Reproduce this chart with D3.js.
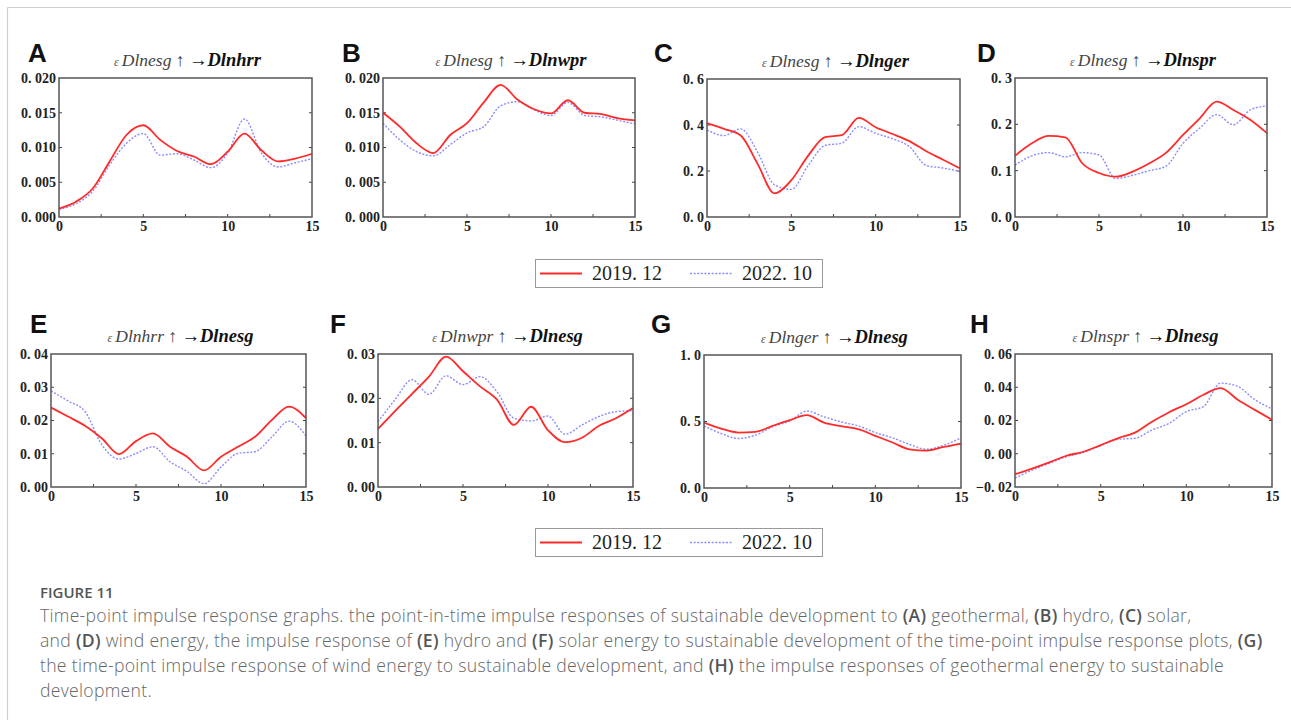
<!DOCTYPE html>
<html>
<head>
<meta charset="utf-8">
<script src="https://cdn.jsdelivr.net/npm/d3@7"></script>
<style>
  html, body { margin: 0; padding: 0; background: #fff; }
  svg { display: block; }
</style>
</head>
<body>
<svg id="fig" width="1291" height="720"></svg>
<script>
// Impulse response periods
const periods = [0, 1, 2, 3, 4, 5, 6, 7, 8, 9, 10, 11, 12, 13, 14, 15];
const xTicks = [0, 5, 10, 15];
const seriesNames = ["2019. 12", "2022. 10"];

// Panel labels and titles
const panelLetters = ["A", "B", "C", "D", "E", "F", "G", "H"];
const shockVars = ["Dlnesg", "Dlnesg", "Dlnesg", "Dlnesg", "Dlnhrr", "Dlnwpr", "Dlnger", "Dlnspr"];
const responseVars = ["Dlnhrr", "Dlnwpr", "Dlnger", "Dlnspr", "Dlnesg", "Dlnesg", "Dlnesg", "Dlnesg"];

// Y tick values per panel
const yTicksA = [0, 0.005, 0.010, 0.015, 0.020];
const yTicksB = [0, 0.005, 0.010, 0.015, 0.020];
const yTicksC = [0, 0.2, 0.4, 0.6];
const yTicksD = [0, 0.1, 0.2, 0.3];
const yTicksE = [0, 0.01, 0.02, 0.03, 0.04];
const yTicksF = [0, 0.01, 0.02, 0.03];
const yTicksG = [0, 0.5, 1.0];
const yTicksH = [-0.02, 0, 0.02, 0.04, 0.06];
const yDecimals = [3, 3, 1, 1, 2, 2, 1, 2];

// Responses, 2019.12
const redA = [0.0012, 0.0022, 0.0041, 0.0080, 0.0118, 0.0132, 0.0111, 0.0095, 0.0087, 0.0076, 0.0094, 0.0120, 0.0096, 0.0080, 0.0084, 0.0091];
const redB = [0.0150, 0.0130, 0.0106, 0.0092, 0.0118, 0.0135, 0.0165, 0.0190, 0.0169, 0.0155, 0.0149, 0.0168, 0.0150, 0.0148, 0.0142, 0.0139];
const redC = [0.408, 0.383, 0.354, 0.231, 0.103, 0.160, 0.267, 0.347, 0.356, 0.431, 0.390, 0.361, 0.330, 0.286, 0.249, 0.211];
const redD = [0.132, 0.159, 0.175, 0.172, 0.116, 0.095, 0.087, 0.098, 0.116, 0.139, 0.177, 0.213, 0.249, 0.231, 0.210, 0.181];
const redE = [0.0239, 0.0212, 0.0184, 0.0146, 0.0099, 0.0138, 0.0161, 0.0121, 0.0091, 0.0050, 0.0091, 0.0121, 0.0151, 0.0202, 0.0242, 0.0207];
const redF = [0.0131, 0.0171, 0.0210, 0.0249, 0.0294, 0.0261, 0.0227, 0.0197, 0.0140, 0.0181, 0.0128, 0.0101, 0.0111, 0.0138, 0.0155, 0.0178];
const redG = [0.492, 0.447, 0.417, 0.422, 0.467, 0.510, 0.548, 0.492, 0.465, 0.442, 0.392, 0.342, 0.291, 0.281, 0.309, 0.334];
const redH = [-0.0123, -0.0089, -0.0052, -0.0012, 0.0012, 0.0052, 0.0093, 0.0127, 0.0193, 0.0250, 0.0298, 0.0355, 0.0395, 0.0325, 0.0264, 0.0204];

// Responses, 2022.10
const blueA = [0.0011, 0.0019, 0.0037, 0.0075, 0.0106, 0.0120, 0.0089, 0.0091, 0.0082, 0.0071, 0.0092, 0.0141, 0.0092, 0.0072, 0.0078, 0.0084];
const blueB = [0.0135, 0.0111, 0.0094, 0.0088, 0.0104, 0.0121, 0.0130, 0.0160, 0.0166, 0.0154, 0.0146, 0.0165, 0.0146, 0.0144, 0.0139, 0.0134];
const blueC = [0.379, 0.354, 0.383, 0.282, 0.140, 0.120, 0.224, 0.311, 0.321, 0.393, 0.364, 0.340, 0.306, 0.224, 0.213, 0.198];
const blueD = [0.112, 0.132, 0.139, 0.130, 0.139, 0.134, 0.083, 0.090, 0.100, 0.110, 0.159, 0.192, 0.221, 0.199, 0.231, 0.240];
const blueE = [0.0289, 0.0259, 0.0227, 0.0126, 0.0084, 0.0101, 0.0121, 0.0076, 0.0047, 0.0010, 0.0060, 0.0101, 0.0106, 0.0151, 0.0198, 0.0154];
const blueF = [0.0147, 0.0197, 0.0242, 0.0209, 0.0251, 0.0231, 0.0249, 0.0215, 0.0155, 0.0149, 0.0160, 0.0119, 0.0140, 0.0159, 0.0170, 0.0172];
const blueG = [0.467, 0.410, 0.372, 0.397, 0.460, 0.503, 0.578, 0.535, 0.497, 0.467, 0.417, 0.377, 0.327, 0.291, 0.322, 0.377];
const blueH = [-0.0145, -0.0099, -0.0058, -0.0018, 0.0008, 0.0048, 0.0087, 0.0093, 0.0143, 0.0183, 0.0254, 0.0284, 0.0425, 0.0405, 0.0325, 0.0270];

const redSeries = [redA, redB, redC, redD, redE, redF, redG, redH];
const blueSeries = [blueA, blueB, blueC, blueD, blueE, blueF, blueG, blueH];
const yTickSets = [yTicksA, yTicksB, yTicksC, yTicksD, yTicksE, yTicksF, yTicksG, yTicksH];

// Plot frames [left, top, right, bottom] and letter anchors
const frames = [
  [59, 78, 312, 217], [383, 78, 635, 217], [707, 79, 960, 217], [1015, 78, 1267, 217],
  [51, 354, 306, 487], [378, 354, 633, 487], [704, 355, 961, 488], [1015, 354, 1272, 487]
];
const letterPos = [[28, 62], [342, 62], [654, 62], [977, 62], [30, 333], [330, 333], [651, 333], [970, 333]];

const RED = "#ff2a2a";
const BLUE = "#8c8cff";

const svg = d3.select("#fig");

// Outer page rule
svg.append("line").attr("x1", 7.5).attr("y1", 7.5).attr("x2", 1291).attr("y2", 7.5)
  .attr("stroke", "#cfcfcf").attr("stroke-width", 1.2);
svg.append("line").attr("x1", 7.5).attr("y1", 7.5).attr("x2", 7.5).attr("y2", 720)
  .attr("stroke", "#cfcfcf").attr("stroke-width", 1.2);

panelLetters.forEach((letter, i) => {
  const [l, t, r, b] = frames[i];
  const yt = yTickSets[i];
  const x = d3.scaleLinear().domain([0, 15]).range([l, r]);
  const y = d3.scaleLinear().domain([yt[0], yt[yt.length - 1]]).range([b, t]);
  const g = svg.append("g");

  // Panel letter
  svg.append("text").attr("x", letterPos[i][0]).attr("y", letterPos[i][1])
    .attr("font-family", "Liberation Sans, Arial, sans-serif")
    .attr("font-weight", "bold").attr("font-size", 26).attr("fill", "#111")
    .text(letter);

  // Title
  const title = svg.append("text").attr("x", (l + r) / 2 + 2).attr("y", t - 12)
    .attr("text-anchor", "middle")
    .attr("font-family", "Liberation Serif, Times New Roman, serif")
    .attr("font-style", "italic").attr("font-size", 17.5);
  title.append("tspan").attr("fill", "#555").attr("font-size", 12).text("ε ");
  title.append("tspan").attr("fill", "#444").text(shockVars[i] + " ↑ ");
  title.append("tspan").attr("fill", "#111").attr("font-weight", "bold").attr("font-size", 18.5)
    .text("→" + responseVars[i]);

  // Axes
  const fmt = d3.format("." + yDecimals[i] + "f");
  const yAxis = d3.axisLeft(y).tickValues(yt).tickSize(0).tickPadding(3)
    .tickFormat(d => fmt(d).replace(".", ". ").replace("-", "−"));
  const xAxis = d3.axisBottom(x).tickValues(xTicks).tickSize(0).tickPadding(4);

  const ya = g.append("g").attr("transform", `translate(${l},0)`).call(yAxis);
  const xa = g.append("g").attr("transform", `translate(0,${b})`).call(xAxis);
  [ya, xa].forEach(a => {
    a.select(".domain").remove();
    a.selectAll("text").attr("font-family", "Liberation Serif, Times New Roman, serif")
      .attr("font-weight", "bold").attr("font-size", 14).attr("fill", "#222");
  });

  // Inner ticks: bottom every 2.5, left/right on y ticks
  const xMinor = [2.5, 5, 7.5, 10, 12.5];
  g.selectAll(".xt").data(xMinor).join("line")
    .attr("x1", d => x(d)).attr("x2", d => x(d)).attr("y1", b).attr("y2", b - 3)
    .attr("stroke", "#444").attr("stroke-width", 1);
  g.selectAll(".yt").data(yt.slice(1, -1)).join("line")
    .attr("x1", r).attr("x2", r - 3).attr("y1", d => y(d)).attr("y2", d => y(d))
    .attr("stroke", "#444").attr("stroke-width", 1);
  g.selectAll(".ytl").data(yt.slice(1, -1)).join("line")
    .attr("x1", l).attr("x2", l + 3).attr("y1", d => y(d)).attr("y2", d => y(d))
    .attr("stroke", "#444").attr("stroke-width", 1);

  const line = d3.line().x((d, j) => x(periods[j])).y(d => y(d)).curve(d3.curveMonotoneX);

  g.append("path").datum(blueSeries[i]).attr("d", line).attr("fill", "none")
    .attr("stroke", BLUE).attr("stroke-width", 1.4).attr("stroke-dasharray", "2,1.6");
  g.append("path").datum(redSeries[i]).attr("d", line).attr("fill", "none")
    .attr("stroke", RED).attr("stroke-width", 1.8);

  // Frame
  g.append("rect").attr("x", l).attr("y", t).attr("width", r - l).attr("height", b - t)
    .attr("fill", "none").attr("stroke", "#555").attr("stroke-width", 1.5);
});

// Legends
[[535, 259], [535, 528]].forEach(([lx, ly]) => {
  const lg = svg.append("g").attr("transform", `translate(${lx},${ly})`);
  lg.append("rect").attr("x", 0.5).attr("y", 0.5).attr("width", 287).attr("height", 28)
    .attr("fill", "#fff").attr("stroke", "#999").attr("stroke-width", 1);
  lg.append("line").attr("x1", 5).attr("x2", 47).attr("y1", 14.5).attr("y2", 14.5)
    .attr("stroke", RED).attr("stroke-width", 1.8);
  lg.append("line").attr("x1", 155).attr("x2", 197).attr("y1", 14.5).attr("y2", 14.5)
    .attr("stroke", BLUE).attr("stroke-width", 1.4).attr("stroke-dasharray", "2,1.6");
  [[57, seriesNames[0]], [207, seriesNames[1]]].forEach(([tx, label]) => {
    lg.append("text").attr("x", tx).attr("y", 21).attr("font-family", "Liberation Serif, Times New Roman, serif")
      .attr("font-size", 20).attr("fill", "#222").text(label);
  });
});

// Caption
const caption = svg.append("g").attr("font-family", "Open Sans, Lato, sans-serif").attr("fill", "#666");
caption.append("text").attr("x", 40).attr("y", 598).attr("font-size", 15).attr("font-weight", 600)
  .attr("fill", "#555").text("FIGURE 11");
const captionLines = [
  [["Time-point impulse response graphs. the point-in-time impulse responses of sustainable development to ", 0], ["(A)", 1], [" geothermal, ", 0], ["(B)", 1], [" hydro, ", 0], ["(C)", 1], [" solar,", 0]],
  [["and ", 0], ["(D)", 1], [" wind energy, the impulse response of ", 0], ["(E)", 1], [" hydro and ", 0], ["(F)", 1], [" solar energy to sustainable development of the time-point impulse response plots, ", 0], ["(G)", 1]],
  [["the time-point impulse response of wind energy to sustainable development, and ", 0], ["(H)", 1], [" the impulse responses of geothermal energy to sustainable", 0]],
  [["development.", 0]]
];
captionLines.forEach((parts, k) => {
  const t = caption.append("text").attr("x", 40).attr("y", 622 + k * 25).attr("font-size", 17.6)
    .attr("font-weight", 300).attr("letter-spacing", 0.3);
  parts.forEach(([s, bold]) => {
    const ts = t.append("tspan").text(s);
    if (bold) ts.attr("font-weight", 600).attr("fill", "#555");
  });
});
</script>
</body>
</html>
